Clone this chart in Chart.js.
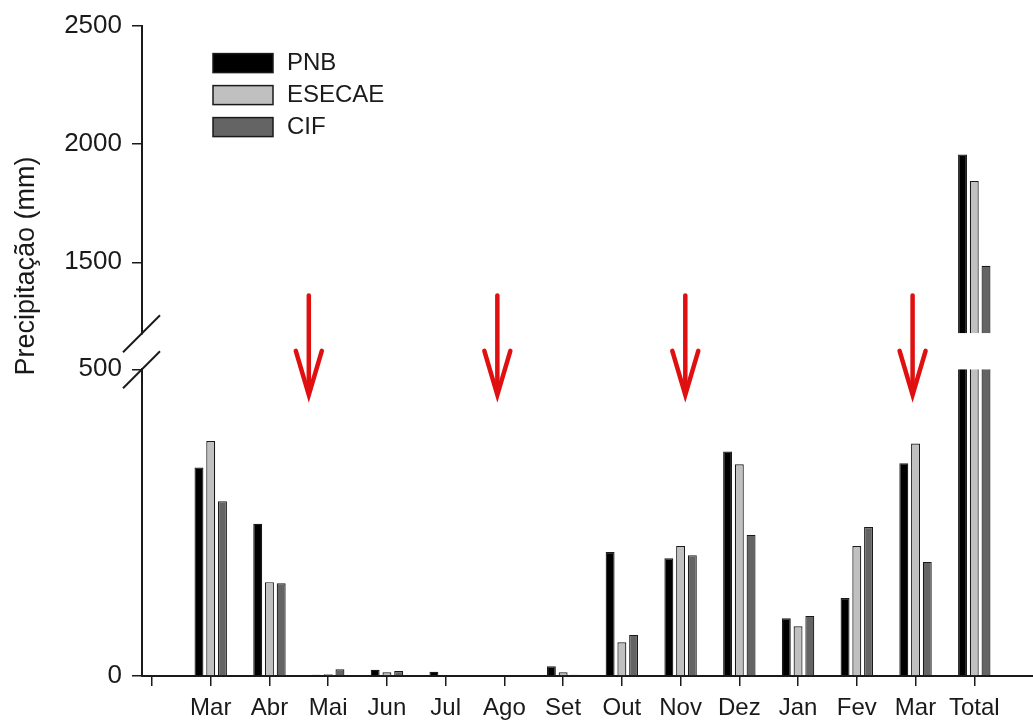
<!DOCTYPE html>
<html>
<head>
<meta charset="utf-8">
<script src="https://cdn.jsdelivr.net/npm/chart.js@4"></script>
<style>
  html, body { margin: 0; padding: 0; background: #fff; }
  #wrap { width: 1033px; height: 724px; position: relative; }
</style>
</head>
<body>
<div id="wrap"><canvas id="rain"></canvas></div>
<script>
// Monthly rainfall per site (mm), Mar to Mar, plus the period total
const months = ['Mar', 'Abr', 'Mai', 'Jun', 'Jul', 'Ago', 'Set', 'Out', 'Nov', 'Dez', 'Jan', 'Fev', 'Mar', 'Total'];
const pnb = [340, 248, 2, 10, 7, 0, 16, 202, 192, 366, 94, 127, 347, 1955];
const esecae = [383, 153, 3, 6, 0, 0, 6, 55, 212, 345, 81, 212, 379, 1843];
const cif = [285, 151, 11, 8, 0, 0, 2, 67, 197, 230, 98, 243, 186, 1485];

// Broken y axis: lower and upper ranges
const lowRange = [0, 500];
const highRange = [1200, 2500];
const yTicks = [0, 500, 1500, 2000, 2500];

// Sampling campaigns (position on the month axis)
const campaigns = [2.67, 5.88, 9.08, 12.95];

const ink = '#1a1a1a';
const family = '"Liberation Sans", Arial, sans-serif';

const series = [
    { label: 'PNB', values: pnb, color: '#000000' },
    { label: 'ESECAE', values: esecae, color: '#c0c0c0' },
    { label: 'CIF', values: cif, color: '#646464' }
];

// every series is drawn twice, once on each part of the broken axis
const datasets = ['yHigh', 'yLow'].flatMap(axis => series.map(s => ({
    label: s.label,
    stack: s.label,
    yAxisID: axis,
    data: s.values.map((v, i) => ({ x: i + 1, y: v })),
    backgroundColor: s.color,
    borderColor: ink,
    borderWidth: 1.2,
    categoryPercentage: 0.6,
    barPercentage: 0.76
})));

// keep each bar inside its own axis segment
const segmentClip = {
    id: 'segmentClip',
    beforeDatasetDraw(chart, args) {
        const scale = chart.scales[args.meta.yAxisID];
        const ctx = chart.ctx;
        ctx.save();
        ctx.beginPath();
        ctx.rect(chart.chartArea.left, scale.top, chart.chartArea.width, scale.bottom - scale.top);
        ctx.clip();
    },
    afterDatasetDraw(chart) {
        chart.ctx.restore();
    }
};

const decorations = {
    id: 'decorations',
    afterDraw(chart) {
        const ctx = chart.ctx;
        const area = chart.chartArea;
        const hi = chart.scales.yHigh;
        const lo = chart.scales.yLow;
        const x = chart.scales.x;

        // axis break marks
        ctx.save();
        ctx.strokeStyle = ink;
        ctx.lineWidth = 2;
        [hi.bottom, lo.top].forEach(y => {
            ctx.beginPath();
            ctx.moveTo(area.left - 19, y + 19);
            ctx.lineTo(area.left + 18, y - 18);
            ctx.stroke();
        });

        // red arrows
        ctx.strokeStyle = '#e01010';
        ctx.lineWidth = 4.5;
        ctx.lineCap = 'round';
        ctx.lineJoin = 'miter';
        campaigns.forEach(c => {
            const px = x.getPixelForValue(c);
            const top = hi.getPixelForValue(1360);
            const tip = lo.getPixelForValue(455);
            ctx.beginPath();
            ctx.moveTo(px, top);
            ctx.lineTo(px, tip - 4);
            ctx.stroke();
            ctx.beginPath();
            ctx.moveTo(px - 13, tip - 46);
            ctx.lineTo(px, tip - 2);
            ctx.lineTo(px + 13, tip - 46);
            ctx.stroke();
        });

        // y axis title
        ctx.fillStyle = ink;
        ctx.font = '27px ' + family;
        ctx.textAlign = 'center';
        ctx.textBaseline = 'middle';
        ctx.translate(27, 266);
        ctx.rotate(-Math.PI / 2);
        ctx.fillText('Precipitação (mm)', 0, 0);
        ctx.restore();

        // legend
        ctx.save();
        ctx.font = '24px ' + family;
        ctx.textAlign = 'left';
        ctx.textBaseline = 'middle';
        series.forEach((s, i) => {
            const bx = area.left + 71;
            const by = area.top + 28 + i * 32;
            ctx.fillStyle = s.color;
            ctx.fillRect(bx, by, 60, 19);
            ctx.strokeStyle = ink;
            ctx.lineWidth = 1.5;
            ctx.strokeRect(bx, by, 60, 19);
            ctx.fillStyle = ink;
            ctx.fillText(s.label, bx + 74, by + 10);
        });
        ctx.restore();
    }
};

const tickFont = { family: family, size: 24 };

function yAxis(range, weight) {
    return {
        type: 'linear',
        position: 'left',
        stack: 'y',
        stackWeight: weight,
        stacked: false,
        min: range[0],
        max: range[1],
        afterBuildTicks: s => { s.ticks = yTicks.filter(v => v >= range[0] && v <= range[1]).map(v => ({ value: v })); },
        afterFit: s => { s.width = 142; },
        ticks: { font: { family: family, size: 26 }, color: ink, padding: 10, callback: v => String(v) },
        grid: { drawOnChartArea: false, tickLength: 10, color: ink, lineWidth: 1.5 },
        border: { color: ink, width: 2 }
    };
}

new Chart(document.getElementById('rain'), {
    type: 'bar',
    data: { datasets: datasets },
    options: {
        responsive: true,
        maintainAspectRatio: false,
        animation: false,
        layout: { padding: { top: 25, right: 0, bottom: 0, left: 0 } },
        scales: {
            x: {
                type: 'linear',
                position: 'bottom',
                offset: false,
                min: -0.17,
                max: 15,
                afterBuildTicks: s => { s.ticks = months.map((m, i) => ({ value: i })).concat([{ value: months.length }]); },
                afterFit: s => { s.height = 48; },
                ticks: {
                    font: tickFont,
                    color: ink,
                    padding: 8,
                    autoSkip: false,
                    maxRotation: 0,
                    callback: v => months[v - 1] || ''
                },
                grid: { offset: false, drawOnChartArea: false, tickLength: 10, color: ink, lineWidth: 1.5 },
                border: { color: ink, width: 2 }
            },
            // stacked left axes: listed bottom-up
            yLow: yAxis(lowRange, 307),
            yGap: { type: 'linear', position: 'left', stack: 'y', stackWeight: 36, display: false },
            yHigh: yAxis(highRange, 308)
        },
        plugins: {
            legend: { display: false },
            tooltip: { enabled: false }
        }
    },
    plugins: [segmentClip, decorations]
});
</script>
</body>
</html>
